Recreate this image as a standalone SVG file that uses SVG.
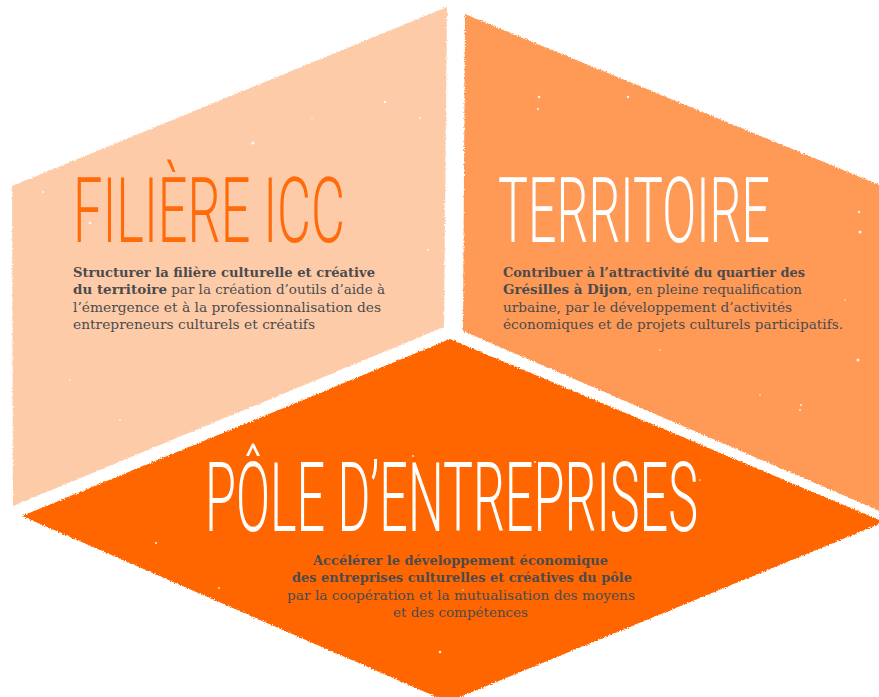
<svg xmlns="http://www.w3.org/2000/svg" width="879" height="697" viewBox="0 0 879 697">
<defs>
<filter id="rough" x="-5%" y="-5%" width="110%" height="110%">
<feTurbulence type="fractalNoise" baseFrequency="0.7" numOctaves="2" seed="4" result="n"/>
<feDisplacementMap in="SourceGraphic" in2="n" scale="3.5" xChannelSelector="R" yChannelSelector="G"/>
</filter>
<style>
.title{font-family:Roboto,"Liberation Sans",sans-serif;font-weight:300;}
.body{font-family:"DejaVu Serif","Liberation Serif",serif;font-size:13.5px;fill:#4b4b4e;}
.b{font-weight:700;}
.dot{fill:#ffffff;opacity:0.85;}
</style>
</defs>
<rect width="879" height="697" fill="#ffffff"/>
<g id="filiere">
<polygon points="12,186 447,7 444,327 13,506" fill="#FECBA8" filter="url(#rough)"/>
<g class="dot"><circle cx="385" cy="102" r="1.3"/><circle cx="253" cy="143" r="1.6"/><circle cx="90" cy="223" r="1.4"/><circle cx="43" cy="192" r="1"/><circle cx="420" cy="118" r="0.9"/><circle cx="312" cy="118" r="0.8"/><circle cx="428" cy="250" r="1"/><circle cx="120" cy="420" r="0.9"/><circle cx="70" cy="380" r="0.8"/><circle cx="300" cy="300" r="0.8"/></g>
<text class="title" transform="translate(73,242) scale(1,1.667)" x="0" y="0" font-size="54" fill="#FF6A0A" textLength="272" lengthAdjust="spacingAndGlyphs">FILIÈRE ICC</text>
<text class="body" x="73" y="277" textLength="302" lengthAdjust="spacingAndGlyphs"><tspan class="b">Structurer la filière culturelle et créative</tspan></text>
<text class="body" x="73" y="294.3" textLength="312" lengthAdjust="spacingAndGlyphs"><tspan class="b">du territoire</tspan> par la création d’outils d’aide à</text>
<text class="body" x="73" y="311.6" textLength="308" lengthAdjust="spacingAndGlyphs">l’émergence et à la professionnalisation des</text>
<text class="body" x="73" y="328.9" textLength="242" lengthAdjust="spacingAndGlyphs">entrepreneurs culturels et créatifs</text>
</g>
<g id="territoire">
<polygon points="465,14 882,186 882,512 463,331" fill="#FF9A56" filter="url(#rough)"/>
<g class="dot"><circle cx="539" cy="97" r="1.3"/><circle cx="628" cy="97" r="1.2"/><circle cx="538" cy="109" r="1"/><circle cx="859" cy="212" r="1.2"/><circle cx="860" cy="232" r="1.5"/><circle cx="858" cy="360" r="1.5"/><circle cx="800" cy="410" r="1"/><circle cx="801" cy="405" r="1.1"/><circle cx="845" cy="300" r="0.8"/><circle cx="660" cy="350" r="0.8"/></g>
<text class="title" transform="translate(498,242) scale(1,1.667)" x="0" y="0" font-size="54" fill="#ffffff" textLength="272" lengthAdjust="spacingAndGlyphs">TERRITOIRE</text>
<text class="body" x="503" y="277" textLength="302" lengthAdjust="spacingAndGlyphs"><tspan class="b">Contribuer à l’attractivité du quartier des</tspan></text>
<text class="body" x="503" y="294.3" textLength="299" lengthAdjust="spacingAndGlyphs"><tspan class="b">Grésilles à Dijon</tspan>, en pleine requalification</text>
<text class="body" x="503" y="311.6" textLength="289" lengthAdjust="spacingAndGlyphs">urbaine, par le développement d’activités</text>
<text class="body" x="503" y="328.9" textLength="340" lengthAdjust="spacingAndGlyphs">économiques et de projets culturels participatifs.</text>
</g>
<g id="pole">
<polygon points="22,516 450,339 884,522 448,702" fill="#FF6600" filter="url(#rough)"/>
<g class="dot"><circle cx="535" cy="462" r="1"/><circle cx="413" cy="456" r="0.9"/><circle cx="156" cy="543" r="1.1"/><circle cx="440" cy="652" r="1.3"/><circle cx="463" cy="590" r="0.8"/><circle cx="760" cy="395" r="0.8"/><circle cx="219" cy="588" r="0.9"/><circle cx="700" cy="480" r="0.8"/><circle cx="605" cy="655" r="0.8"/></g>
<text class="title" transform="translate(205,531) scale(1,1.667)" x="0" y="0" font-size="57.4" fill="#ffffff" textLength="493" lengthAdjust="spacingAndGlyphs">PÔLE D’ENTREPRISES</text>
<text class="body b" x="313" y="565" textLength="295" lengthAdjust="spacingAndGlyphs">Accélérer le développement économique</text>
<text class="body b" x="292" y="582.3" textLength="340" lengthAdjust="spacingAndGlyphs">des entreprises culturelles et créatives du pôle</text>
<text class="body" x="287" y="599.6" textLength="348" lengthAdjust="spacingAndGlyphs">par la coopération et la mutualisation des moyens</text>
<text class="body" x="393" y="616.9" textLength="135" lengthAdjust="spacingAndGlyphs">et des compétences</text>
</g>
<g id="connectors"></g>
</svg>
